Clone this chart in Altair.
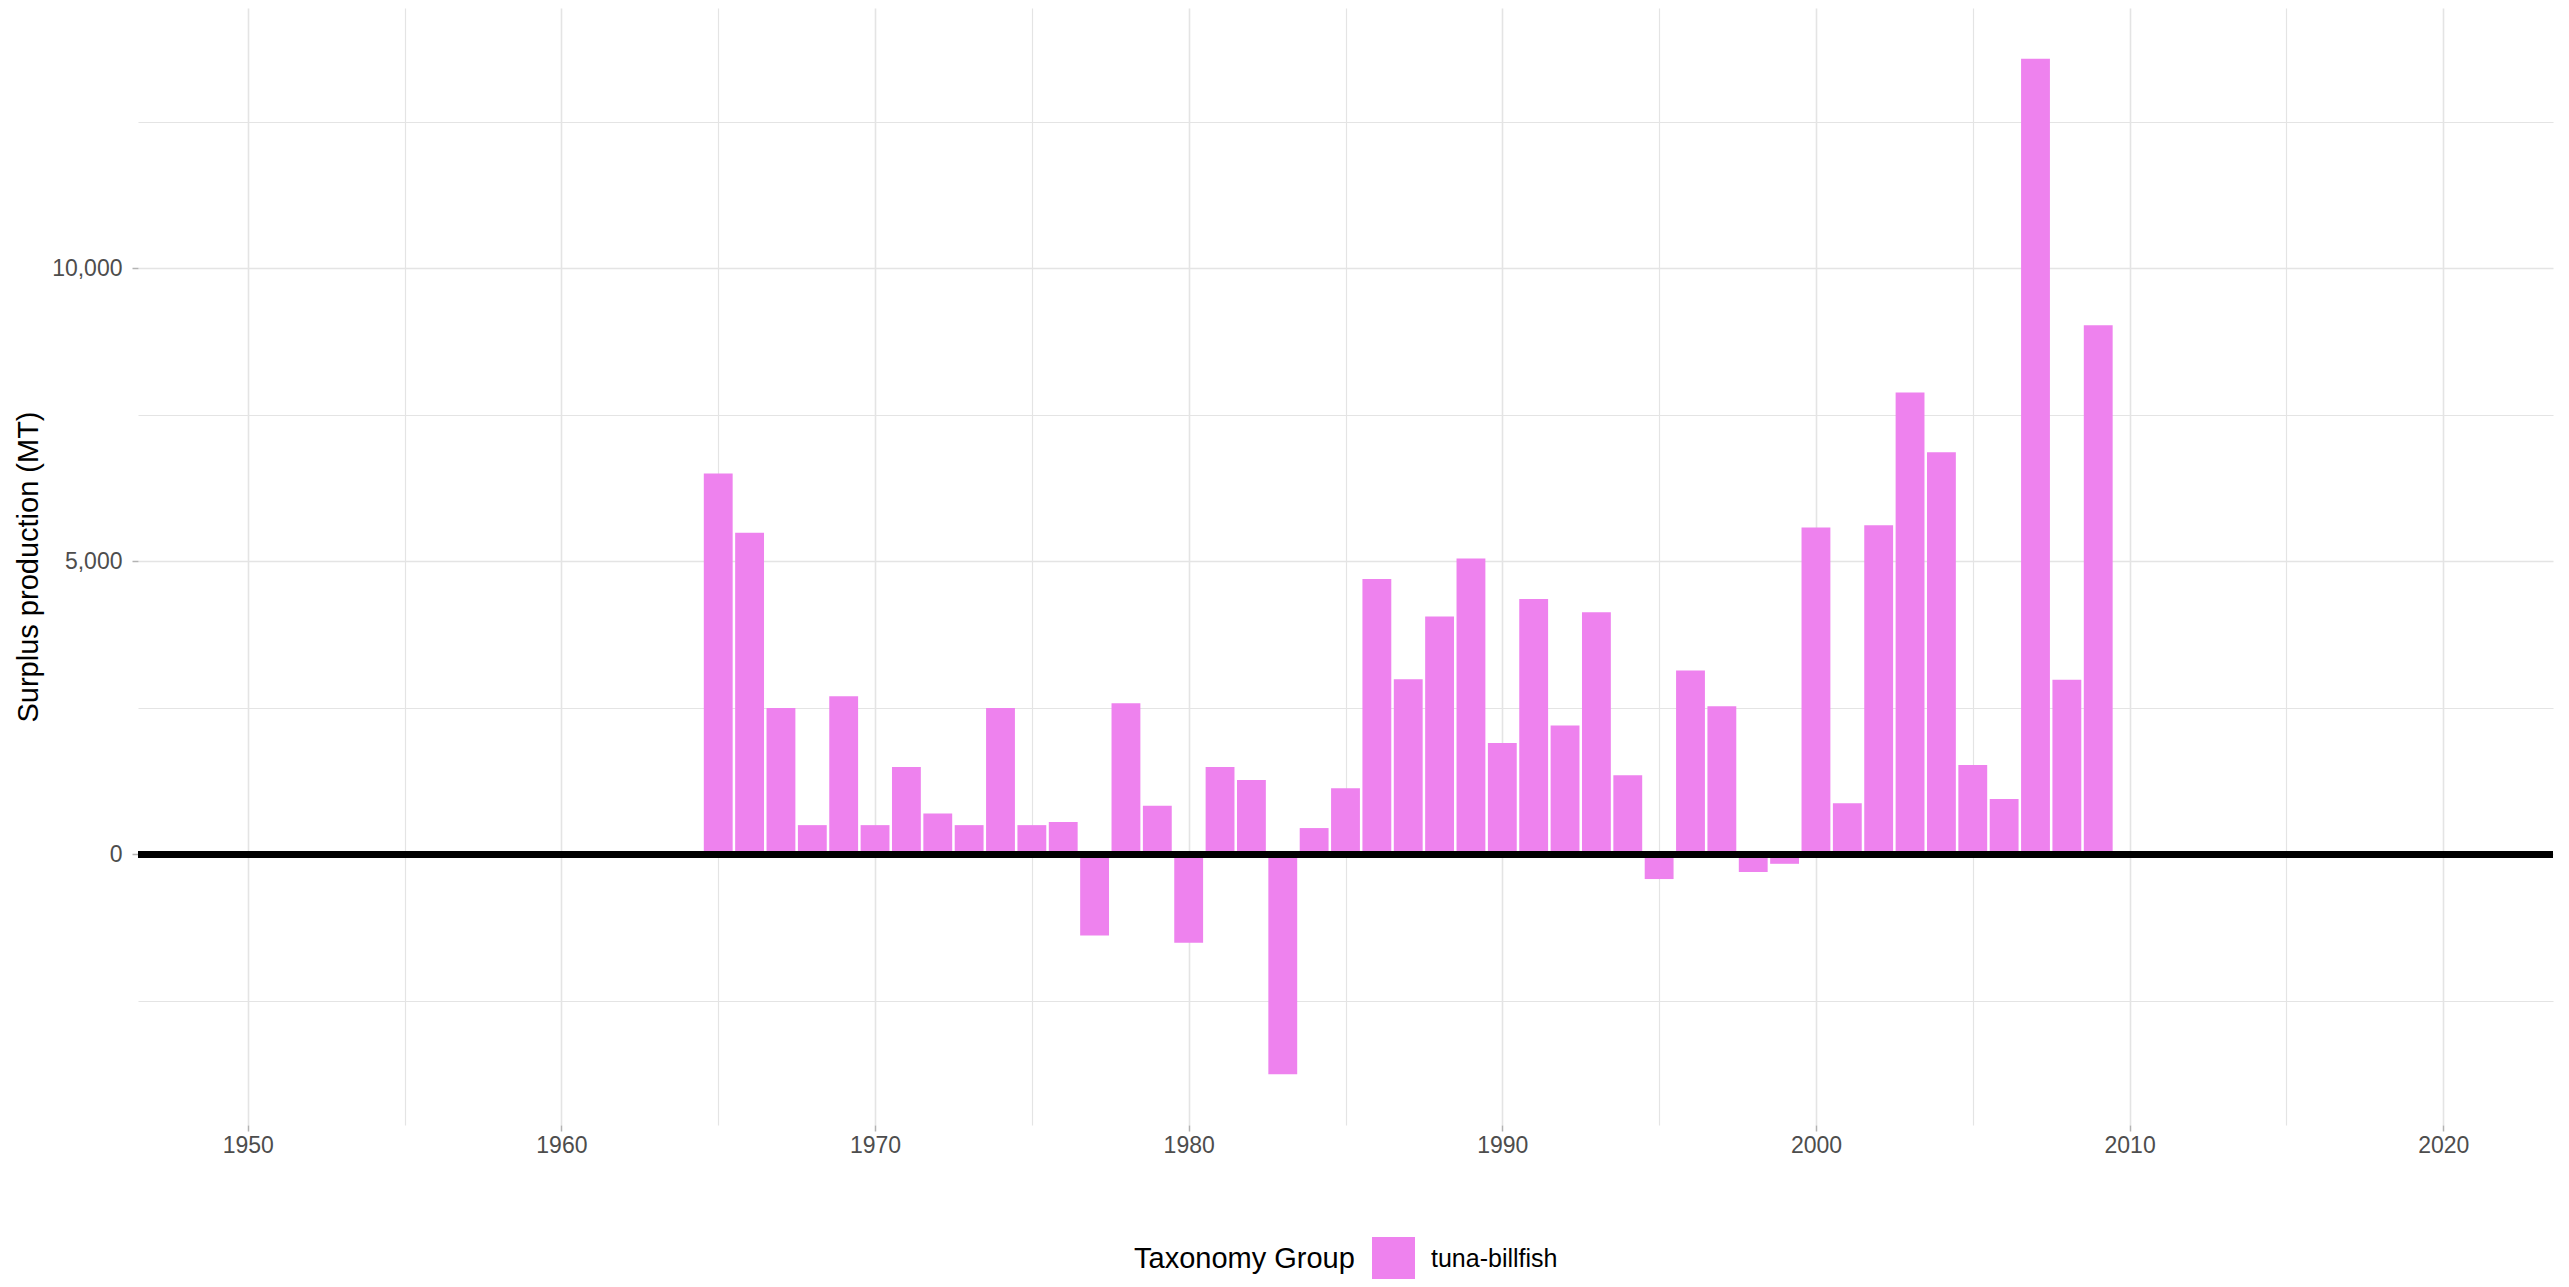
import altair as alt
import pandas as pd

years = list(range(1965, 2010))
surplus = [
    6500, 5490, 2500, 500, 2700, 500, 1490, 700, 500, 2500,
    500, 555, -1385, 2580, 830, -1505, 1490, 1270, -3750, 450,
    1130, 4700, 2990, 4060, 5050, 1900, 4360, 2200, 4130, 1350,
    -420, 3140, 2530, -300, -160, 5580, 875, 5615, 7880, 6860,
    1525, 945, 13575, 2980, 9030,
]
group_name = "tuna-billfish"
group_color = "#EE82EE"

x_ticks = list(range(1950, 2021, 5))
y_ticks = list(range(-2500, 12501, 2500))

df = pd.DataFrame({"year": years, "surplus": surplus, "group": group_name})

vmin, vmax = min(surplus), max(surplus)
span = vmax - vmin
y_domain = [vmin - 0.05 * span, vmax + 0.05 * span]
x_domain = [1950 - 3.5, 2020 + 3.5]

FONT = "Liberation Sans"
W, H = 2415, 1117
GRID = "#E4E4E4"

base = alt.Chart(df).transform_calculate(
    x0="datum.year - 0.46", x1="datum.year + 0.46"
)

bars = base.mark_bar(strokeWidth=0).encode(
    x=alt.X(
        "x0:Q",
        scale=alt.Scale(domain=x_domain, nice=False, zero=False),
        axis=alt.Axis(
            values=x_ticks,
            labelExpr="datum.value % 10 === 0 ? format(datum.value, 'd') : ''",
            grid=True,
            gridColor=GRID,
            gridWidth={"condition": {"test": "datum.value % 10 === 0", "value": 1.6}, "value": 1.2},
            tickColor="#B3B3B3",
            tickWidth=1.5,
            tickSize=6,
            tickOpacity={"condition": {"test": "datum.value % 10 === 0", "value": 1}, "value": 0},
            domain=False,
            labelFont=FONT,
            labelFontSize=23,
            labelColor="#4D4D4D",
            labelPadding=3,
            title=None,
        ),
    ),
    x2="x1:Q",
    y=alt.Y(
        "surplus:Q",
        scale=alt.Scale(domain=y_domain, nice=False, zero=False),
        axis=alt.Axis(
            values=y_ticks,
            labelExpr="datum.value % 5000 === 0 ? format(datum.value, ',') : ''",
            grid=True,
            gridColor=GRID,
            gridWidth={"condition": {"test": "datum.value % 5000 === 0", "value": 1.6}, "value": 1.2},
            tickColor="#B3B3B3",
            tickWidth=1.5,
            tickSize=6,
            tickOpacity={"condition": {"test": "datum.value % 5000 === 0", "value": 1}, "value": 0},
            domain=False,
            labelFont=FONT,
            labelFontSize=23,
            labelColor="#4D4D4D",
            labelPadding=10,
            title="Surplus production (MT)",
            titleFont=FONT,
            titleFontSize=29,
            titleFontWeight="normal",
            titleColor="black",
            titleAngle=270,
            titleX=-110,
            titleY=H / 2,
            titleAlign="center",
            titleBaseline="middle",
        ),
    ),
    y2=alt.datum(0),
    color=alt.Color(
        "group:N",
        scale=alt.Scale(domain=[group_name], range=[group_color]),
        legend=alt.Legend(
            title="Taxonomy Group",
            orient="none",
            legendX=996,
            legendY=1229,
            direction="horizontal",
            titleOrient="left",
            titleFont=FONT,
            titleFontSize=29,
            titleFontWeight="normal",
            titleColor="black",
            titlePadding=17,
            titleLimit=500,
            labelFont=FONT,
            labelFontSize=25,
            labelColor="black",
            labelOffset=16,
            labelLimit=400,
            symbolType="square",
            symbolSize=1849,
            symbolStrokeWidth=0,
            symbolOpacity=1,
        ),
    ),
)

zero_line = alt.Chart(df).mark_rule(color="black", strokeWidth=5.5).encode(
    y=alt.datum(0)
)

chart = (
    alt.layer(bars, zero_line)
    .properties(
        width=W,
        height=H,
        padding={"left": 130, "top": 0, "right": 8, "bottom": 154},
        autosize=alt.AutoSizeParams(type="none"),
        background="white",
    )
    .configure_view(strokeWidth=0)
)

chart.save("out.html", embed_options={"renderer": "svg", "actions": False})
